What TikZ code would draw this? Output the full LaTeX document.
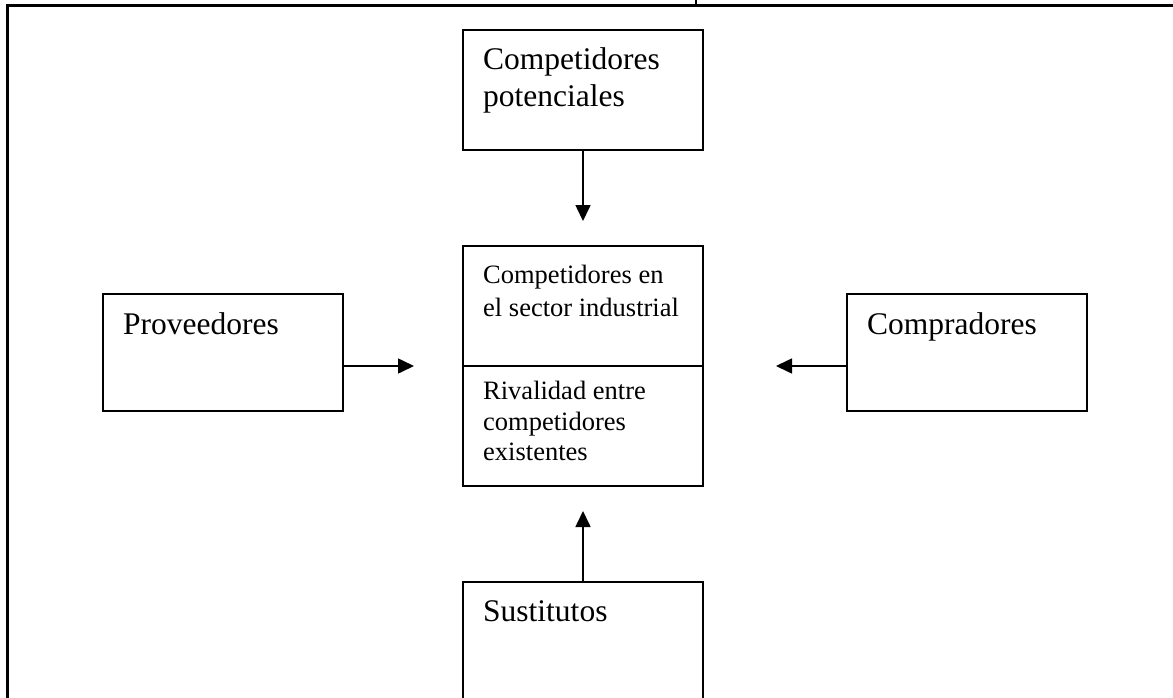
\documentclass[tikz,border=0pt]{standalone}
\usepackage{fontspec}
\setmainfont{Liberation Serif}
\usetikzlibrary{arrows.meta}
\tikzset{
  box/.style={draw, line width=2pt, rectangle, inner sep=0pt, minimum width=240pt},
  bigtext/.style={anchor=north west, inner sep=0pt, align=left, font=\fontsize{31.5}{37}\selectfont},
  smalltext/.style={anchor=north west, inner sep=0pt, align=left, font=\fontsize{26.5}{33}\selectfont},
  force/.style={line width=1.6pt, -{Triangle[length=16pt,width=15pt]}},
  frame/.style={line width=3pt}
}
\begin{document}
\begin{tikzpicture}[x=1pt,y=-1pt]
\clip (0,0) rectangle (1173,698);
% frame
\coordinate (fbl) at (7,698);
\coordinate (ftl) at (7,6);
\coordinate (ftr) at (1173,6);
\draw[frame] (fbl) -- (ftl) -- (ftr);
\coordinate (tickb) at (696,6);
\coordinate (tickt) at (696,0);
\draw[line width=2pt] (tickb) -- (tickt);
% boxes
\node[box, minimum height=120pt] (pot) at (583,90) {};
\node[box, minimum height=240pt] (ctr) at (583,366) {};
\draw[line width=2pt] (ctr.west) -- (ctr.east);
\node[box, minimum height=117pt] (prov) at (223,352.5) {};
\node[box, minimum height=117pt] (comp) at (967,352.5) {};
\node[box, minimum height=200pt] (sust) at (583,682) {};
% texts
\node[bigtext] (tpot) at (483,47) {Competidores\\potenciales};
\node[smalltext] (tctr1) at (483,265) {Competidores en\\el sector industrial};
\node[smalltext, font=\fontsize{26.5}{30.5}\selectfont] (tctr2) at (483,381) {Rivalidad entre\\competidores\\existentes};
\node[bigtext] (tprov) at (123,312) {Proveedores};
\node[bigtext] (tcomp) at (867,312) {Compradores};
\node[bigtext] (tsust) at (483,600) {Sustitutos};
% arrows
\draw[force, shorten >=24pt] (pot.south) -- (ctr.north);
\draw[force, shorten >=24pt] (sust.north) -- (ctr.south);
\draw[force, shorten >=48pt] (prov.east |- ctr.center) -- (ctr.west);
\draw[force, shorten >=72pt] (comp.west |- ctr.center) -- (ctr.east);
\end{tikzpicture}
\end{document}
